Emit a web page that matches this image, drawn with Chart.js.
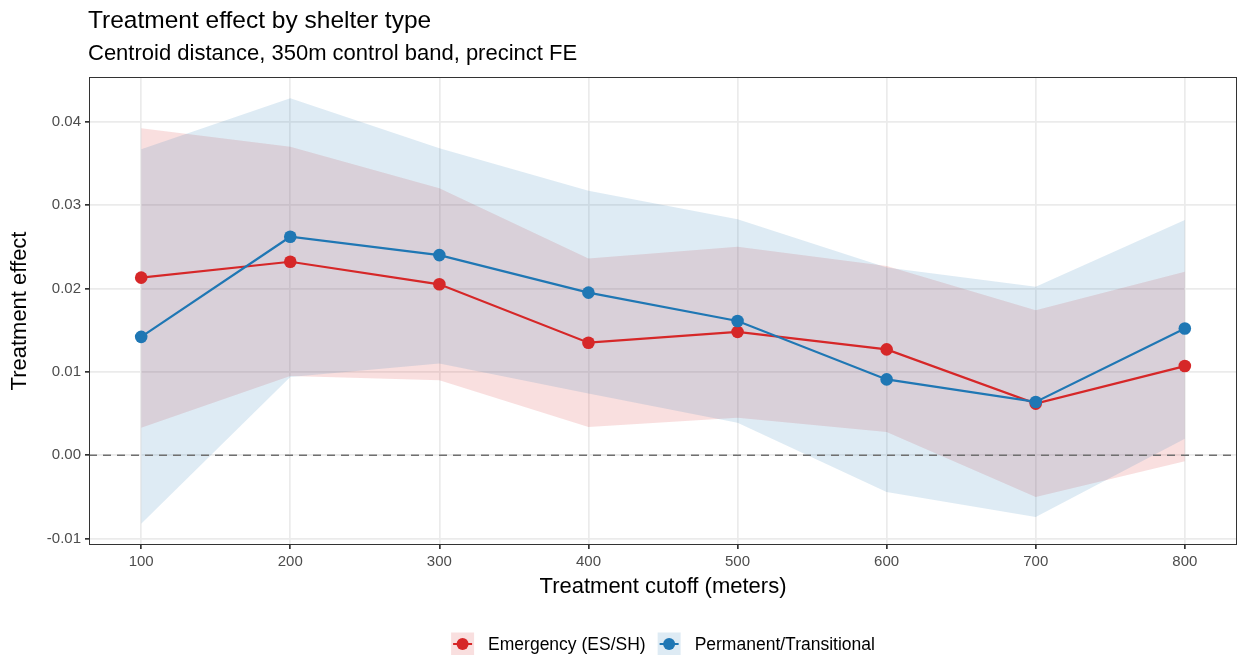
<!DOCTYPE html>
<html>
<head>
<meta charset="utf-8">
<script src="https://cdn.jsdelivr.net/npm/chart.js@4.4.1/dist/chart.umd.min.js"></script>
<style>
  html, body { margin: 0; padding: 0; background: #ffffff; }
  canvas { display: block; }
</style>
</head>
<body>
<canvas id="chart" width="1238" height="655"></canvas>
<script>
// Treatment cutoffs (meters)
const cutoffs = [100, 200, 300, 400, 500, 600, 700, 800];

// Emergency (ES/SH): point estimate and confidence band
const emergencyEst = [0.0213, 0.0232, 0.0205, 0.0135, 0.0148, 0.0127, 0.0062, 0.0107];
const emergencyLo  = [0.0033, 0.0095, 0.0090, 0.0034, 0.0045, 0.0028, -0.0050, -0.0007];
const emergencyHi  = [0.0392, 0.0370, 0.0320, 0.0236, 0.0250, 0.0227, 0.0174, 0.0220];

// Permanent/Transitional: point estimate and confidence band
const permanentEst = [0.0142, 0.0262, 0.0240, 0.0195, 0.0161, 0.0091, 0.0064, 0.0152];
const permanentLo  = [-0.0082, 0.0094, 0.0110, 0.0074, 0.0039, -0.0044, -0.0074, 0.0020];
const permanentHi  = [0.0367, 0.0428, 0.0368, 0.0317, 0.0283, 0.0225, 0.0202, 0.0282];

// Axis ticks
const xTicks = [100, 200, 300, 400, 500, 600, 700, 800];
const yTicks = [-0.01, 0.00, 0.01, 0.02, 0.03, 0.04];

const seriesNames = ['Emergency (ES/SH)', 'Permanent/Transitional'];
const RED = '#d62728';
const BLUE = '#1f77b4';
const RED_BAND = 'rgba(214,39,40,0.15)';
const BLUE_BAND = 'rgba(31,119,180,0.15)';
const FONT = '"Liberation Sans", Arial, Helvetica, sans-serif';

const pts = (ys) => cutoffs.map((x, i) => ({ x: x, y: ys[i] }));

// ggplot-style 5% expansion of the data range
function expanded(lo, hi, frac) {
  const d = hi - lo;
  return [lo - d * frac, hi + d * frac];
}
const allY = [].concat(emergencyLo, emergencyHi, permanentLo, permanentHi, emergencyEst, permanentEst);
const [yMin, yMax] = expanded(Math.min(...allY), Math.max(...allY), 0.05);
const [xMin, xMax] = expanded(Math.min(...cutoffs), Math.max(...cutoffs), 0.05);

const bandBase = { borderWidth: 0, pointRadius: 0, pointHoverRadius: 0, tension: 0 };

const panelPlugin = {
  id: 'panelDecor',
  afterDatasetsDraw(chart) {
    const { ctx, chartArea: a, scales } = chart;
    // dashed reference line at zero
    const y0 = scales.y.getPixelForValue(0);
    ctx.save();
    ctx.strokeStyle = '#707070';
    ctx.lineWidth = 1.5;
    ctx.setLineDash([8, 6]);
    ctx.beginPath();
    ctx.moveTo(a.left, y0);
    ctx.lineTo(a.right, y0);
    ctx.stroke();
    ctx.restore();
    // panel border
    ctx.save();
    ctx.strokeStyle = '#333333';
    ctx.lineWidth = 1;
    ctx.strokeRect(a.left + 0.5, a.top + 0.5, a.right - a.left - 1, a.bottom - a.top - 1);
    ctx.restore();
  },
  afterDraw(chart) {
    const { ctx, chartArea: a } = chart;
    ctx.save();
    ctx.fillStyle = '#000000';
    ctx.textBaseline = 'alphabetic';
    ctx.textAlign = 'left';
    ctx.font = '24.5px ' + FONT;
    ctx.fillText('Treatment effect by shelter type', a.left - 1, 28);
    ctx.font = '22px ' + FONT;
    ctx.fillText('Centroid distance, 350m control band, precinct FE', a.left - 1, 60);

    // axis titles
    ctx.font = '22px ' + FONT;
    ctx.textAlign = 'center';
    ctx.textBaseline = 'middle';
    ctx.fillText('Treatment cutoff (meters)', (a.left + a.right) / 2, 587);
    ctx.save();
    ctx.translate(20, (a.top + a.bottom) / 2);
    ctx.rotate(-Math.PI / 2);
    ctx.fillText('Treatment effect', 0, 0);
    ctx.restore();

    // legend
    ctx.font = '17.5px ' + FONT;
    const key = 23, keyGap = 14, itemGap = 12;
    const colors = [RED, BLUE];
    const bands = [RED_BAND, BLUE_BAND];
    const widths = seriesNames.map(n => ctx.measureText(n).width);
    let total = 0;
    widths.forEach((w, i) => { total += key + keyGap + w + (i < widths.length - 1 ? itemGap : 0); });
    let x = (a.left + a.right) / 2 - total / 2;
    const cy = 644;
    seriesNames.forEach((name, i) => {
      ctx.fillStyle = bands[i];
      ctx.fillRect(x, cy - key / 2, key, key);
      ctx.strokeStyle = colors[i];
      ctx.lineWidth = 2;
      ctx.beginPath();
      ctx.moveTo(x + 2, cy);
      ctx.lineTo(x + key - 2, cy);
      ctx.stroke();
      ctx.fillStyle = colors[i];
      ctx.beginPath();
      ctx.arc(x + key / 2, cy, 6, 0, Math.PI * 2);
      ctx.fill();
      ctx.fillStyle = '#000000';
      ctx.textAlign = 'left';
      ctx.textBaseline = 'middle';
      ctx.fillText(name, x + key + keyGap, cy + 1);
      x += key + keyGap + widths[i] + itemGap;
    });
    ctx.restore();
  }
};

new Chart(document.getElementById('chart'), {
  type: 'line',
  data: {
    datasets: [
      Object.assign({ label: 'emHi', data: pts(emergencyHi), backgroundColor: RED_BAND, fill: '+1', order: 4 }, bandBase),
      Object.assign({ label: 'emLo', data: pts(emergencyLo), fill: false, order: 4 }, bandBase),
      Object.assign({ label: 'pmHi', data: pts(permanentHi), backgroundColor: BLUE_BAND, fill: '+1', order: 3 }, bandBase),
      Object.assign({ label: 'pmLo', data: pts(permanentLo), fill: false, order: 3 }, bandBase),
      {
        label: seriesNames[0], data: pts(emergencyEst), borderColor: RED, backgroundColor: RED,
        borderWidth: 2.2, pointRadius: 6.3, pointBorderWidth: 0, pointBackgroundColor: RED,
        fill: false, tension: 0, order: 1
      },
      {
        label: seriesNames[1], data: pts(permanentEst), borderColor: BLUE, backgroundColor: BLUE,
        borderWidth: 2.2, pointRadius: 6.3, pointBorderWidth: 0, pointBackgroundColor: BLUE,
        fill: false, tension: 0, order: 0
      }
    ]
  },
  options: {
    responsive: false,
    animation: false,
    devicePixelRatio: 1,
    layout: { autoPadding: false, padding: { top: 77, right: 1, left: 0, bottom: 0 } },
    plugins: {
      legend: { display: false },
      title: { display: false },
      tooltip: { enabled: false },
      filler: { propagate: false }
    },
    scales: {
      x: {
        type: 'linear',
        min: xMin, max: xMax,
        afterBuildTicks: s => { s.ticks = xTicks.map(v => ({ value: v })); },
        afterFit: s => { s.height = 110; },
        ticks: { color: '#4d4d4d', font: { size: 15, family: FONT }, padding: 4, maxRotation: 0, autoSkip: false,
                 callback: v => String(v) },
        grid: { color: '#ebebeb', lineWidth: 1.7, tickColor: '#333333', tickLength: 4, drawTicks: true },
        border: { display: false }
      },
      y: {
        type: 'linear',
        min: yMin, max: yMax,
        afterBuildTicks: s => { s.ticks = yTicks.map(v => ({ value: v })); },
        afterFit: s => { s.width = 89; },
        ticks: { color: '#4d4d4d', font: { size: 15, family: FONT }, padding: 4, autoSkip: false,
                 callback: v => Number(v).toFixed(2) },
        grid: { color: '#ebebeb', lineWidth: 1.7, tickColor: '#333333', tickLength: 4, drawTicks: true },
        border: { display: false }
      }
    }
  },
  plugins: [panelPlugin]
});
</script>
</body>
</html>
